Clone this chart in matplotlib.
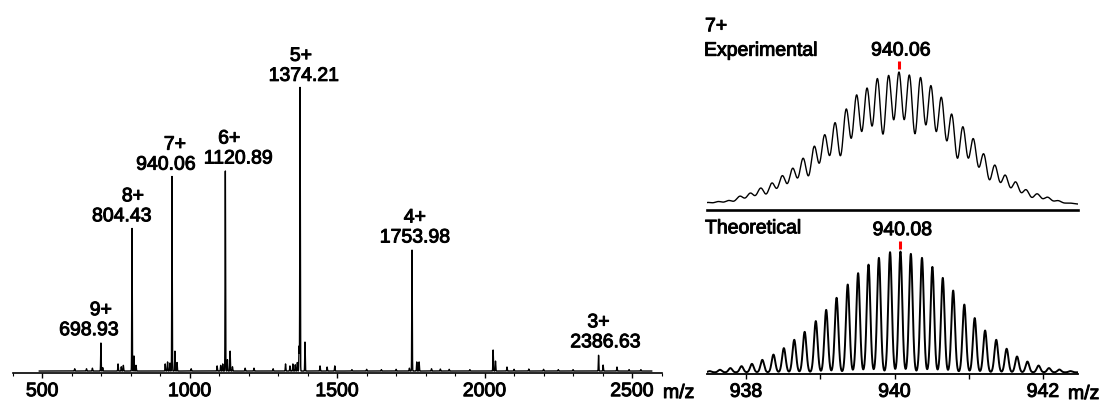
import numpy as np
import matplotlib.pyplot as plt
import matplotlib.patheffects as pe
from matplotlib.text import Text

plt.rcParams['font.family'] = ['Liberation Sans', 'DejaVu Sans']
plt.rcParams['font.size'] = 14

# charge-state series of the full spectrum (intensity in % of base peak)
ion_mz = [698.93, 804.43, 940.06, 1120.89, 1374.21, 1753.98, 2386.63]
ion_charge = ['9+', '8+', '7+', '6+', '5+', '4+', '3+']
ion_int = [9.9, 50.4, 68.7, 71.1, 100.0, 42.6, 5.6]

# unlabelled peaks, adducts and baseline bumps
minor_mz = [610, 650, 670, 705, 757, 768, 775, 811, 818, 917, 925, 933, 950, 957,
            1005, 1093, 1105, 1112, 1128, 1137, 1145, 1188, 1218, 1283, 1325, 1340,
            1350, 1358, 1365, 1371, 1391, 1442, 1466, 1492, 1550, 1600, 1650, 1700,
            1745, 1770, 1778, 1820, 1850, 1880, 1950, 2029, 2037, 2076, 2100, 2150,
            2200, 2250, 2300, 2402, 2449, 2490, 2530]
minor_int = [0.8, 0.8, 1.0, 1.2, 2.5, 1.5, 2.0, 5.3, 2.0, 2.5, 3.2, 2.8, 7.0, 3.0,
             0.8, 1.8, 2.0, 2.5, 4.0, 7.0, 1.5, 1.0, 1.0, 0.8, 2.5, 1.8,
             2.5, 2.2, 3.0, 8.8, 10.2, 1.8, 1.4, 1.8, 0.5, 0.6, 0.5, 0.6,
             1.0, 3.2, 3.2, 0.8, 0.7, 0.6, 0.5, 7.4, 3.5, 1.4, 0.6, 0.7,
             0.6, 0.5, 0.5, 2.1, 1.4, 0.5, 0.5]

# 7+ isotope cluster, experimental
exp_mz = [937.49, 937.63, 937.77, 937.92, 938.06, 938.20, 938.35, 938.49, 938.63,
          938.77, 938.92, 939.06, 939.20, 939.35, 939.49, 939.63, 939.77, 939.92,
          940.06, 940.20, 940.35, 940.49, 940.63, 940.77, 940.92, 941.06, 941.20,
          941.35, 941.49, 941.63, 941.77, 941.92, 942.06, 942.20, 942.35]
exp_int = [1.2, 1.9, 2.7, 6.0, 8.3, 12.2, 16.0, 21.5, 27.1,
           34.9, 44.0, 52.5, 62.0, 72.3, 82.7, 87.8, 95.6, 97.9,
           100.0, 98.2, 96.4, 89.7, 80.9, 68.4, 58.9, 49.6, 38.2,
           29.7, 21.9, 16.8, 10.9, 7.8, 5.2, 2.6, 0.8]

# 7+ isotope cluster, theoretical
theo_mz = [937.51, 937.65, 937.79, 937.94, 938.08, 938.22, 938.37, 938.51, 938.65,
           938.79, 938.94, 939.08, 939.22, 939.37, 939.51, 939.65, 939.79, 939.94,
           940.08, 940.22, 940.37, 940.51, 940.65, 940.79, 940.94, 941.08, 941.22,
           941.37, 941.51, 941.65, 941.79, 941.94, 942.08, 942.22, 942.37]
theo_int = [1.0, 2.1, 3.5, 5.1, 7.0, 10.3, 14.7, 20.0, 26.9,
            33.5, 42.4, 51.7, 61.7, 72.7, 82.1, 89.2, 94.8, 99.5,
            100.0, 98.1, 94.8, 87.3, 78.2, 67.7, 56.1, 44.9, 34.6,
            26.9, 19.5, 13.1, 8.9, 5.6, 3.5, 2.3, 1.0]

exp_apex = '940.06'
theo_apex = '940.08'

# label nudges in pixels (m/z text, charge text)
num_dx = [-12, -10, -6, 13, 4, 3, 7]
charge_dx = [0, 1, 3, 4, 1, 3, 0]


def profile(grid, centers, heights, width):
    y = np.zeros_like(grid)
    for c, h in zip(centers, heights):
        y += h * np.exp(-0.5 * ((grid - c) / width) ** 2)
    return y


W, H = 1107, 406


def box(x0, y0, x1, y1):
    return [x0 / W, 1 - y1 / H, (x1 - x0) / W, (y1 - y0) / H]


fig = plt.figure(figsize=(W / 100, H / 100), dpi=100)

# ---- full spectrum ----
ax = fig.add_axes(box(12.76, 0, 661.5, 374.3))
mz = np.arange(490, 2567, 0.25)
spec = profile(mz, ion_mz + minor_mz, ion_int + minor_int, 0.8)
ax.plot(mz, spec, color='black', lw=1.0)
ax.set_xlim(400, 2600)
ax.set_ylim(-0.8, 131.0)
for s in ['left', 'top', 'right']:
    ax.spines[s].set_visible(False)
ax.spines['bottom'].set_linewidth(1.2)
ax.set_yticks([])
ax.set_xticks([500, 1000, 1500, 2000, 2500])
ax.set_xticks(np.arange(400, 2601, 100), minor=True)
ax.tick_params(which='major', direction='out', length=3.6, width=1.0, pad=3.5, labelsize=14)
ax.tick_params(which='minor', direction='out', length=2.2, width=0.8)
fig.text(663 / W, 1 - 399 / H, 'm/z', ha='left', va='baseline')

for m, z, h, dn, dc in zip(ion_mz, ion_charge, ion_int, num_dx, charge_dx):
    top = np.interp(m, mz, spec)
    ax.annotate(f'{m:.2f}', (m, top), xytext=(dn, 8), textcoords='offset pixels',
                ha='center', va='baseline')
    ax.annotate(z, (m, top), xytext=(dc, 28), textcoords='offset pixels',
                ha='center', va='baseline')

# ---- isotope clusters ----
iso_lim = (937.475, 942.467)
grid = np.arange(iso_lim[0], iso_lim[1], 0.002)

ax1 = fig.add_axes(box(707, 0, 1077.7, 210.7))
exp_prof = profile(grid, exp_mz, exp_int, 0.047)
ax1.plot(grid, exp_prof, color='black', lw=1.0)
ax1.set_xlim(*iso_lim)
ax1.set_ylim(-4.4, 158.9)
for s in ['left', 'top', 'right']:
    ax1.spines[s].set_visible(False)
ax1.spines['bottom'].set_linewidth(1.9)
ax1.set_xticks([])
ax1.set_yticks([])

ax2 = fig.add_axes(box(707, 214, 1077.7, 375))
theo_prof = profile(grid, theo_mz, theo_int, 0.024)
ax2.plot(grid, theo_prof, color='black', lw=1.4)
ax2.set_xlim(*iso_lim)
ax2.set_ylim(-1.4, 131.9)
for s in ['left', 'top', 'right']:
    ax2.spines[s].set_visible(False)
ax2.spines['bottom'].set_linewidth(1.3)
ax2.set_yticks([])
ax2.set_xticks([938, 940, 942])
ax2.set_xticks([939, 941], minor=True)
ax2.tick_params(which='both', direction='out', length=3.6, width=1.0, pad=3.5, labelsize=14)
fig.text(1068 / W, 1 - 400 / H, 'm/z', ha='left', va='baseline')

# apex markers
for a, lab, ppu in [(ax1, exp_apex, 210.7 / 163.3), (ax2, theo_apex, 161 / 133.3)]:
    x0 = float(lab)
    prof = exp_prof if a is ax1 else theo_prof
    top = np.interp(x0, grid, prof)
    a.plot([x0, x0], [top + 3 / ppu, top + 11 / ppu], color='#ff0000', lw=2.2,
           solid_capstyle='butt', clip_on=False)
    a.annotate(lab, (x0, top), xytext=(2, 16.5), textcoords='offset pixels',
               ha='center', va='baseline', annotation_clip=False)

fig.text(705 / W, 1 - 32.3 / H, '7+', ha='left', va='baseline')
fig.text(704 / W, 1 - 56.7 / H, 'Experimental', ha='left', va='baseline')
fig.text(705 / W, 1 - 234.3 / H, 'Theoretical', ha='left', va='baseline')

# slightly heavier glyphs
for t in fig.findobj(Text):
    t.set_path_effects([pe.withStroke(linewidth=0.7, foreground='black')])

fig.savefig('out.png', dpi=100)
